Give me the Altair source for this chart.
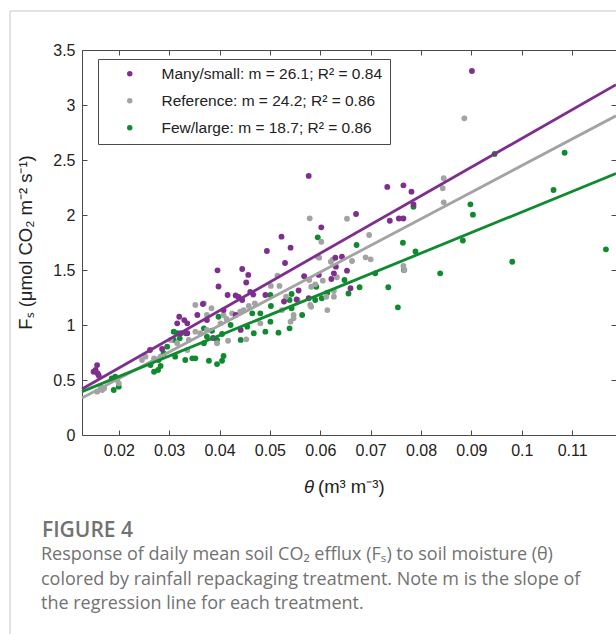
import altair as alt
import pandas as pd

# ---------------- data ----------------
groups = ["Many/small: m = 26.1; R² = 0.84",
          "Reference: m = 24.2; R² = 0.86",
          "Few/large: m = 18.7; R² = 0.86"]
colors = ["#7e2f8e", "#a3a3a3", "#0f8a2f"]
slopes = [26.1, 24.2, 18.7]
intercepts = [0.086, 0.029, 0.157]

x_ticks = [0.02, 0.03, 0.04, 0.05, 0.06, 0.07, 0.08, 0.09, 0.10, 0.11]
y_ticks = [0, 0.5, 1, 1.5, 2, 2.5, 3, 3.5]
x_domain = [0.0127, 0.1187]
y_domain = [0, 3.5]

purple_theta = [0.0157, 0.0154, 0.0158, 0.0150, 0.0160, 0.0262, 0.0286, 0.0320, 0.0330, 0.0336,
                0.0316, 0.0356, 0.0323, 0.0336, 0.0375, 0.0387, 0.0367, 0.0396, 0.0398, 0.0416,
                0.0432, 0.0438, 0.0445, 0.0445, 0.0457, 0.0453, 0.0461, 0.0467, 0.0491, 0.0494,
                0.0523, 0.0541, 0.0530, 0.0442, 0.0408, 0.0432, 0.0528, 0.0557, 0.0553, 0.0577,
                0.0577, 0.0602, 0.0568, 0.0597, 0.0622, 0.0627, 0.0630, 0.0643, 0.0631, 0.0653,
                0.0660, 0.0671, 0.0733, 0.0765, 0.0781, 0.0738, 0.0756, 0.0765, 0.0785, 0.0901]
purple_fs = [0.636, 0.591, 0.561, 0.575, 0.545, 0.773, 0.782, 1.075, 1.045, 1.015,
             1.015, 1.091, 0.925, 0.925, 1.045, 0.882, 1.191, 1.497, 1.350, 1.273,
             1.268, 1.255, 1.227, 1.509, 1.455, 1.386, 1.300, 1.277, 1.273, 1.673,
             1.803, 1.703, 1.564, 0.955, 1.136, 1.091, 1.214, 1.314, 1.232, 1.243,
             2.355, 1.888, 1.443, 1.455, 1.418, 1.470, 1.612, 1.621, 1.530, 1.494,
             1.334, 2.009, 2.255, 2.270, 2.212, 1.948, 1.968, 1.968, 2.097, 3.309]

gray_theta = [0.0157, 0.0164, 0.0167, 0.0161, 0.0171, 0.0197, 0.0200, 0.0246, 0.0253, 0.0270,
              0.0283, 0.0303, 0.0316, 0.0336, 0.0339, 0.0352, 0.0362, 0.0375, 0.0395, 0.0402,
              0.0417, 0.0453, 0.0481, 0.0541, 0.0547, 0.0524, 0.0580, 0.0627, 0.0614, 0.0352,
              0.0369, 0.0384, 0.0408, 0.0425, 0.0448, 0.0458, 0.0470, 0.0502, 0.0515, 0.0519,
              0.0578, 0.0582, 0.0625, 0.0633, 0.0532, 0.0579, 0.0602, 0.0595, 0.0886, 0.0845,
              0.0843, 0.0845, 0.0653, 0.0697, 0.0690, 0.0700, 0.0663, 0.0621, 0.0598, 0.0605,
              0.0590, 0.0612, 0.0627, 0.0582, 0.0555, 0.0547, 0.0765, 0.0767, 0.0441, 0.0414,
              0.0375]
gray_fs = [0.394, 0.439, 0.409, 0.530, 0.425, 0.500, 0.470, 0.682, 0.712, 0.697,
           0.712, 0.864, 0.834, 0.773, 0.864, 0.939, 0.925, 0.955, 0.834, 1.015,
           0.857, 0.870, 1.015, 1.030, 1.091, 1.136, 1.182, 1.257, 1.136, 1.182,
           1.197, 1.152, 1.091, 1.106, 1.136, 1.173, 1.197, 1.355, 1.448, 1.355,
           1.409, 1.348, 1.597, 1.434, 1.257, 1.970, 1.757, 1.621, 2.879, 2.334,
           2.243, 2.115, 1.966, 1.818, 1.615, 1.597, 1.582, 1.575, 1.612, 1.403,
           1.370, 1.257, 1.309, 1.166, 1.227, 1.061, 1.536, 1.500, 1.121, 1.055,
           1.091]

green_theta = [0.0190, 0.0200, 0.0193, 0.0186, 0.0263, 0.0270, 0.0278, 0.0283, 0.0279, 0.0289,
               0.0296, 0.0309, 0.0316, 0.0309, 0.0321, 0.0312, 0.0332, 0.0346, 0.0352, 0.0379,
               0.0395, 0.0405, 0.0408, 0.0369, 0.0375, 0.0395, 0.0398, 0.0422, 0.0442, 0.0468,
               0.0481, 0.0491, 0.0501, 0.0517, 0.0539, 0.0543, 0.0564, 0.0590, 0.0603, 0.0465,
               0.0501, 0.0543, 0.0592, 0.0614, 0.0595, 0.0672, 0.0764, 0.0789, 0.0883, 0.0981,
               0.1167, 0.0838, 0.0766, 0.0648, 0.0678, 0.0735, 0.0656, 0.0709, 0.0754, 0.0785,
               0.0898, 0.0903, 0.0946, 0.1085, 0.1063, 0.0539, 0.0502, 0.0455, 0.0369, 0.0385,
               0.0333, 0.0405]
green_fs = [0.409, 0.439, 0.530, 0.515, 0.636, 0.575, 0.591, 0.627, 0.682, 0.743,
            0.803, 0.864, 0.925, 0.939, 0.879, 0.712, 0.682, 0.697, 0.697, 0.675,
            0.645, 0.675, 0.718, 0.834, 0.894, 0.864, 1.075, 1.000, 0.864, 0.925,
            1.106, 0.939, 1.030, 0.930, 0.970, 1.152, 1.091, 1.227, 1.243, 1.106,
            1.273, 1.282, 1.348, 1.294, 1.797, 1.727, 1.748, 1.668, 1.768, 1.575,
            1.688, 1.470, 1.500, 1.409, 1.343, 1.343, 1.286, 1.470, 1.161, 2.075,
            2.097, 2.003, 2.555, 2.566, 2.227, 1.227, 1.173, 0.985, 0.970, 0.948,
            0.925, 0.918]

caption_title = "FIGURE 4"
caption_lines = ["Response of daily mean soil CO₂ efflux (Fₛ) to soil moisture (θ)",
                 "colored by rainfall repackaging treatment. Note m is the slope of",
                 "the regression line for each treatment."]
y_title = "Fₛ (μmol CO₂ m⁻² s⁻¹)"
x_title_sym = "θ"
x_title_rest = "(m³ m⁻³)"

# ---------------- tables ----------------
rows = []
for g, th, fs in [(groups[2], green_theta, green_fs),
                  (groups[1], gray_theta, gray_fs),
                  (groups[0], purple_theta, purple_fs)]:
    for a, b in zip(th, fs):
        rows.append({"group": g, "theta": a, "fs": b})
pts = pd.DataFrame(rows)

lrows = []
for g, m, c in zip(groups, slopes, intercepts):
    for xv in x_domain:
        lrows.append({"group": g, "theta": xv, "fs": c + m * xv})
lines_df = pd.DataFrame(lrows)

W, H = 534, 385
FONT = "Liberation Sans"
AX = "#4a4a4a"

xsc = alt.Scale(domain=x_domain, nice=False, zero=False)
ysc = alt.Scale(domain=y_domain, nice=False, zero=False)
csc = alt.Scale(domain=groups, range=colors)

points = alt.Chart(pts).mark_circle(size=34, opacity=1).encode(
    x=alt.X("theta:Q", scale=xsc,
            axis=alt.Axis(orient="bottom", offset=-5, tickSize=5, values=x_ticks, format="~g",
                          domain=False, grid=False, title=None, labelFontSize=16, labelFont=FONT,
                          labelColor="#222222", tickColor=AX, labelPadding=7)),
    y=alt.Y("fs:Q", scale=ysc,
            axis=alt.Axis(orient="left", offset=-5, tickSize=5, values=y_ticks, format="~g",
                          domain=False, grid=False, title=None, labelFontSize=16, labelFont=FONT,
                          labelColor="#222222", tickColor=AX, labelPadding=7)),
    color=alt.Color("group:N", scale=csc, sort=groups,
                    legend=alt.Legend(orient="none", legendX=16, legendY=9, title=None,
                                      fillColor="white", strokeColor=AX, padding=7,
                                      symbolType="circle", symbolSize=30, symbolStrokeWidth=0,
                                      labelFontSize=15.5, labelFont=FONT, labelColor="#222222",
                                      rowPadding=10, symbolOffset=17, labelOffset=24,
                                      labelLimit=400)),
)

lines = alt.Chart(lines_df).mark_line(strokeWidth=2.8).encode(
    x=alt.X("theta:Q", scale=xsc,
            axis=alt.Axis(orient="top", offset=-5, tickSize=5, values=x_ticks, labels=False,
                          domain=False, grid=False, title=None, tickColor=AX)),
    y=alt.Y("fs:Q", scale=ysc,
            axis=alt.Axis(orient="right", offset=-5, tickSize=5, values=y_ticks, labels=False,
                          domain=False, grid=False, title=None, tickColor=AX)),
    color=alt.Color("group:N", scale=csc, legend=None),
    detail="group:N",
)

anno = pd.DataFrame({"k": [0]})
ytitle = alt.Chart(anno).mark_text(angle=270, fontSize=18.5, font=FONT, color="#222222").encode(
    x=alt.value(-56), y=alt.value(H / 2), text=alt.value(y_title))
xt1 = alt.Chart(anno).mark_text(fontSize=18.5, font=FONT, fontStyle="italic", color="#222222",
                                align="right").encode(
    x=alt.value(232), y=alt.value(437), text=alt.value(x_title_sym))
xt2 = alt.Chart(anno).mark_text(fontSize=18.5, font=FONT, color="#222222", align="left").encode(
    x=alt.value(236), y=alt.value(437), text=alt.value(x_title_rest))

CAPC = "#727272"
CAPF = "Open Sans"
cap0 = alt.Chart(anno).mark_text(fontSize=21, font=CAPF, fontWeight=600, color=CAPC,
                                 align="left").encode(
    x=alt.value(-40), y=alt.value(481), text=alt.value(caption_title))
cap_layers = []
for i, t in enumerate(caption_lines):
    cap_layers.append(alt.Chart(anno).mark_text(fontSize=18, font=CAPF, color=CAPC,
                                                align="left").encode(
        x=alt.value(-41), y=alt.value(505 + 24.5 * i), text=alt.value(t)))

card_top = alt.Chart(anno).mark_rule(color="#c8c8c8", strokeWidth=1).encode(
    x=alt.value(-72), x2=alt.value(W + 10), y=alt.value(-39))
card_left = alt.Chart(anno).mark_rule(color="#c8c8c8", strokeWidth=1).encode(
    x=alt.value(-72), y=alt.value(-39), y2=alt.value(H + 220))

chart = alt.layer(card_top, card_left, points, lines, ytitle, xt1, xt2, cap0, *cap_layers).resolve_axis(
    x="independent", y="independent"
).properties(
    width=W, height=H,
    autosize=alt.AutoSizeParams(type="none"),
    padding={"left": 82, "top": 50, "right": 0, "bottom": 199},
).configure_view(stroke=AX, strokeWidth=1)

chart.save("out.html", embed_options={"renderer": "svg", "actions": False})
